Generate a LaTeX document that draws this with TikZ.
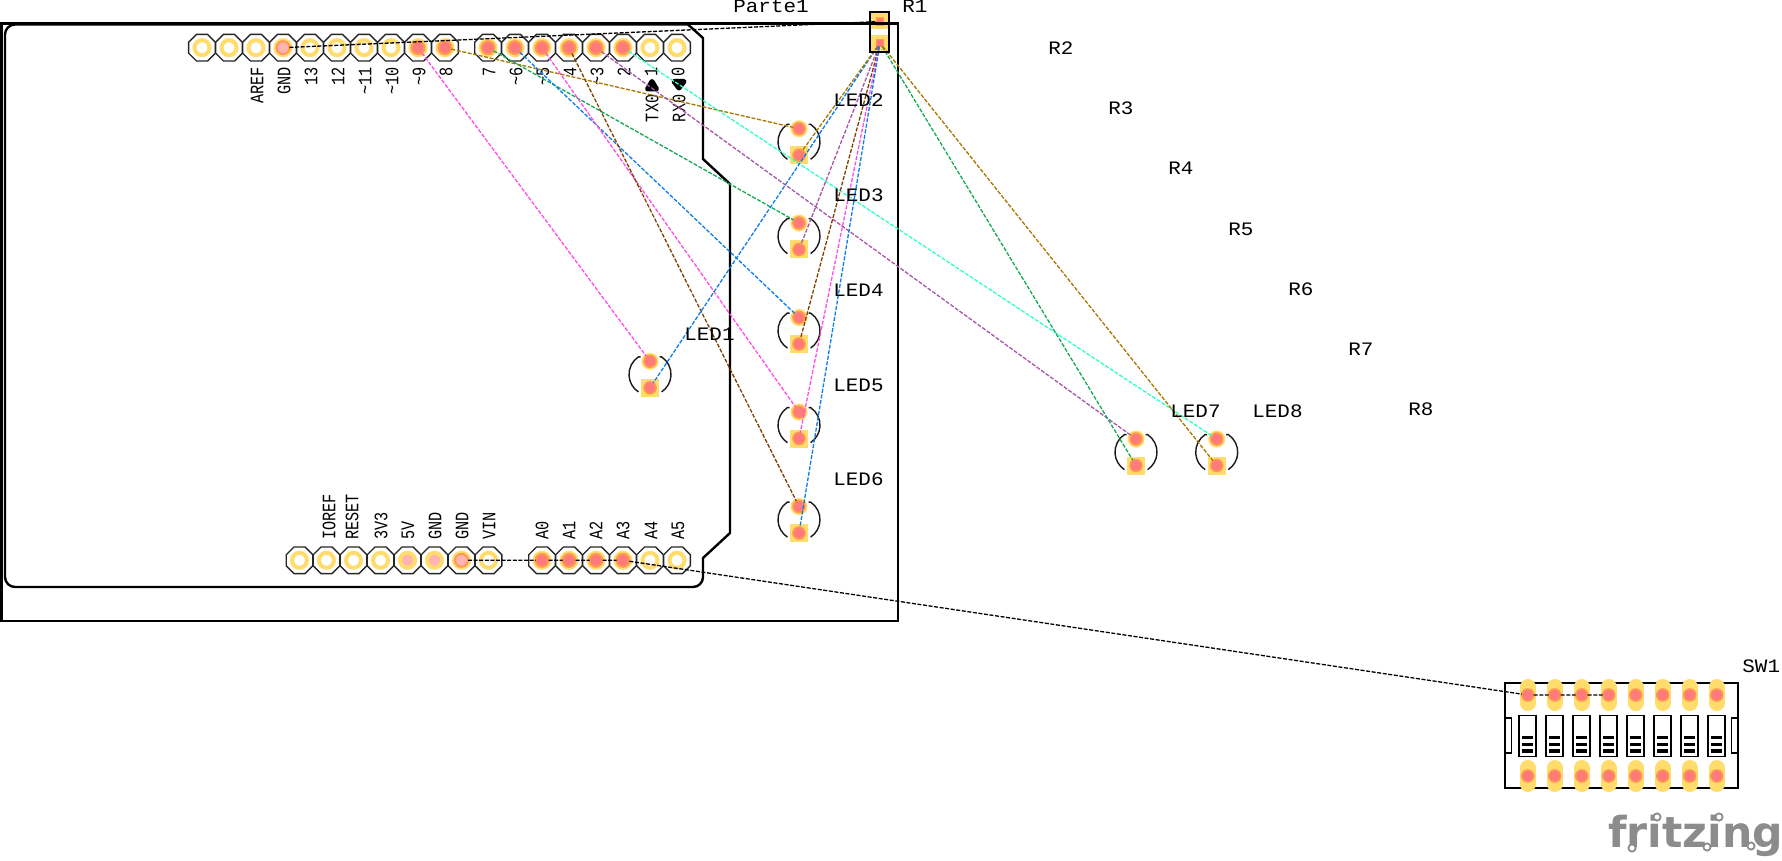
\documentclass[tikz,border=0pt]{standalone}
\usepackage{fontspec}
\usetikzlibrary{shapes.geometric}
\newfontfamily\netfont{Liberation Mono}[FakeStretch=1.1]
\newfontfamily\pinfont{Liberation Mono}[FakeStretch=0.8]
\newfontfamily\logofont{DejaVu Sans}
\definecolor{padyellow}{HTML}{FFDC6B}
\definecolor{padorange}{HTML}{FF9A50}
\definecolor{padred}{HTML}{FF7A7A}
\definecolor{padpale}{HTML}{FFB3B3}
\definecolor{wiregold}{HTML}{A67800}
\definecolor{wirepink}{HTML}{FF4DE5}
\definecolor{wireblue}{HTML}{0F7CE6}
\definecolor{wiregreen}{HTML}{14AA55}
\definecolor{wirepurple}{HTML}{A855A8}
\definecolor{wirecyan}{HTML}{2EFFC8}
\definecolor{wirebrown}{HTML}{7F3F00}
\definecolor{logogray}{HTML}{8C8C8C}
\tikzset{
  hotpad/.style = {circle, inner sep=0, outer sep=0, minimum size=6.5pt, fill=padred, draw=padorange, line width=1pt, preaction={draw=padyellow, line width=3pt}},
  hotpale/.style = {hotpad, fill=padpale},
  midpad/.style = {circle, inner sep=0, outer sep=0, minimum size=7.5pt, fill=padpale, draw=padyellow, line width=2pt},
  coldpad/.style = {midpad, fill=white},
  swpad/.style = {circle, inner sep=0, outer sep=0, minimum size=6pt, fill=padred, draw=padorange, line width=.8pt},
  ledpad/.style = {swpad, preaction={draw=padyellow, line width=2.5pt}},
  pinframe/.style = {regular polygon, regular polygon sides=8, inner sep=0, minimum size=14.4pt, draw=black!85, fill=white, line width=.7pt},
  ledbase/.style = {rectangle, inner sep=0, minimum size=9pt, fill=padyellow},
  ledarc/.style = {black!90, line width=.7pt},
  resbase/.style = {rectangle, inner sep=0, minimum width=9pt, minimum height=8.5pt, fill=padyellow},
  respad/.style = {rectangle, inner sep=0, outer sep=0, minimum size=3.4pt, fill=padred, draw=padorange, line width=.8pt},
  netlabel/.style = {anchor=base west, inner sep=0, font=\netfont\fontsize{9.5}{12}\selectfont},
  pinup/.style = {rotate=90, inner sep=0, font=\pinfont\fontsize{9.5}{11}\selectfont},
  logodot/.style = {circle, inner sep=0, minimum size=3.6pt, fill=white, draw=logogray, line width=.9pt},
  outline/.style = {draw=black, line width=1.2pt},
  wire/.style = {line width=.65pt, dash pattern=on 2pt off .8pt}
}
\begin{document}
\begin{tikzpicture}[x=.5pt, y=-.5pt]
    \useasboundingbox (0,0) rectangle (1782,861);

    % resistor
    \node[resbase] (r1top) at (879.5,20.5) {};
    \node[resbase] (r1bot) at (879.5,43.5) {};
    \node[respad] (r1a) at (880,21.5) {};
    \node[respad] (r1k) at (880,43) {};

    % board
    \draw[outline] (688,23.5) -- (898,23.5) -- (898,620.7) -- (1.5,620.7) -- (1.5,23.5) -- cycle;
    \draw[outline] (688,24.5) -- (703,38) -- (703,159) -- (730,184) -- (730,533) -- (703,558) [rounded corners=5pt] -- (703,587) -- (5,587) -- (5,24.5) -- (688,24.5);

    % header pins
    \foreach \x/\nm/\kind/\txt in {202/paa/coldpad/, 229/pab/coldpad/, 256/aref/coldpad/AREF, 283/gnda/hotpale/GND, 310/dxiii/coldpad/13, 337/dxii/coldpad/12, 364/dxi/coldpad/\textasciitilde11, 391/dx/coldpad/\textasciitilde10, 418/dix/hotpad/\textasciitilde9, 445/dviii/hotpad/8, 488/dvii/hotpad/7, 515/dvi/hotpad/\textasciitilde6, 542/dv/hotpad/\textasciitilde5, 569/div/hotpad/4, 596/diii/hotpad/\textasciitilde3, 623/dii/hotpad/2, 650/di/coldpad/1, 677/dz/coldpad/0} {
      \node[pinframe] at (\x,47.7) {};
      \node[\kind] (\nm) at (\x,47.7) {};
      \node[pinup, anchor=east] (lbl\nm) at (\x+1,67) {\txt};
    }
    \foreach \x/\nm/\kind in {299.5/pba/coldpad, 326.5/ioref/coldpad, 353.5/reset/coldpad, 380.5/vtt/coldpad, 407.5/vcc/midpad, 434.5/gndb/midpad, 461.5/gndc/hotpale, 488.5/vin/coldpad, 542/az/hotpad, 569/aa/hotpad, 596/ab/hotpad, 623/ac/hotpad, 650/ad/coldpad, 677/ae/coldpad} {
      \node[pinframe] at (\x,560.3) {};
      \node[\kind] (\nm) at (\x,560.3) {};
    }
    \foreach \x/\nm/\txt in {329/ioref/IOREF, 352/reset/RESET, 381/vtt/3V3, 408/vcc/5V, 435/gndb/GND, 462/gndc/GND, 489/vin/VIN, 542/az/A0, 569/aa/A1, 596/ab/A2, 623/ac/A3, 651/ad/A4, 678/ae/A5}
      \node[pinup, anchor=west] (lbl\nm) at (\x,540) {\txt};

    \node[pinup, anchor=west] (lbltx) at (652,122.5) {TX0};
    \node[pinup, anchor=west] (lblrx) at (679,122.5) {RX0};
    \fill[draw=black, line width=2.5pt, line join=round] (647.5,89) -- (652,81.5) -- (656.5,89) -- cycle;
    \fill[draw=black, line width=2.5pt, line join=round] (674,81.5) -- (684,81.5) -- (679,88) -- cycle;

    % leds
    \foreach \n/\x/\y in {1/650/361.3, 2/799/128.7, 3/799/223, 4/799/317.5, 5/799/412, 6/799/506.5, 7/1136/439, 8/1216.7/439} {
      \node[ledbase] (led\n base) at (\x,\y+26.5) {};
      \node[ledpad] (led\n a) at (\x,\y) {};
      \node[swpad] (led\n k) at (\x,\y+26.5) {};
      \draw[ledarc] (\x-9.5,\y-4.4) -- (\x-11.6,\y-4.4) arc[start angle=123.5, end angle=236.5, radius=10.5pt];
      \draw[ledarc] (\x+9.5,\y-4.4) -- (\x+11.6,\y-4.4) arc[start angle=56.5, end angle=-56.5, radius=10.5pt];
    }

    % dip switch
    \draw[outline, line width=.9pt] (1505.3,683) rectangle (1737.7,788);
    \draw[outline, line width=.9pt] (1505.3,717.7) rectangle (1511.5,753.3);
    \draw[outline, line width=.9pt] (1731.5,717.7) rectangle (1737.7,753.3);
    \foreach \n [evaluate=\n as \x using {1527.7+27*(\n-1)}] in {1,...,8} {
      \draw[padyellow, line width=8pt, line cap=round] (\x,687) -- (\x,703);
      \draw[padyellow, line width=8pt, line cap=round] (\x,768) -- (\x,784);
      \node[swpad] (swa\n) at (\x,695) {};
      \node[swpad] (swb\n) at (\x,776) {};
      \draw[outline, line width=.9pt] (\x-8.5,715.5) rectangle (\x+8.5,756.5);
      \foreach \y in {736,742.7,749.4}
        \fill (\x-5.6,\y) rectangle (\x+5.6,\y+3.4);
    }

    % wires
    \draw[wire, wiregold] (dviii) -- (led2a);
    \draw[wire, wirepink] (dix) -- (led1a);
    \draw[wire, wiregreen] (dvii) -- (led3a);
    \draw[wire, wireblue] (dvi) -- (led4a);
    \draw[wire, wirepink] (dv) -- (led5a);
    \draw[wire, wirebrown] (div) -- (led6a);
    \draw[wire, wirepurple] (diii) -- (led7a);
    \draw[wire, wirecyan] (dii) -- (led8a);

    \draw[wire, wireblue] (r1k) -- (led1k);
    \draw[wire, wiregold] (r1k) -- (led2k);
    \draw[wire, wirepurple] (r1k) -- (led3k);
    \draw[wire, wirebrown] (r1k) -- (led4k);
    \draw[wire, wirepink] (r1k) -- (led5k);
    \draw[wire, wireblue] (r1k) -- (led6k);
    \draw[wire, wiregreen] (r1k) -- (led7k);
    \draw[wire, wiregold] (r1k) -- (led8k);

    \draw[wire] (gnda) -- (r1a);
    \draw[wire] (gndc) -- (az) -- (aa) -- (ab) -- (ac) -- (swa1) -- (swa2) -- (swa3) -- (swa4);

    % resistor body on top of its wires
    \draw[outline] (870,12) rectangle (889,52);

    % labels
    \foreach \x/\y/\nm/\txt in {733/13/parte/Parte1, 902/13/rone/R1, 833/107/ltwo/LED2, 833/202/lthree/LED3, 833/296/lfour/LED4, 833/391/lfive/LED5, 833/485/lsix/LED6, 684/340/lone/LED1, 1170/417/lseven/LED7, 1252/417/leight/LED8, 1048/55/rtwo/R2, 1108/115/rthree/R3, 1168/175/rfour/R4, 1228/235/rfive/R5, 1288/295/rsix/R6, 1348/355/rseven/R7, 1408/415/reight/R8, 1742/672/swone/SW1}
      \node[netlabel] (\nm) at (\x,\y) {\txt};

    % logo
    \node[anchor=base west, inner sep=0, text=logogray, font=\logofont\bfseries\fontsize{21.3}{26}\selectfont] (logo) at (1608,847) {fritzing};
    \foreach \x/\y/\nm in {1657/817/doti, 1719/817/dotj, 1632/848/dotr, 1707/847/dotz, 1751/846/dotn}
      \node[logodot] (\nm) at (\x,\y) {};

\end{tikzpicture}
\end{document}
